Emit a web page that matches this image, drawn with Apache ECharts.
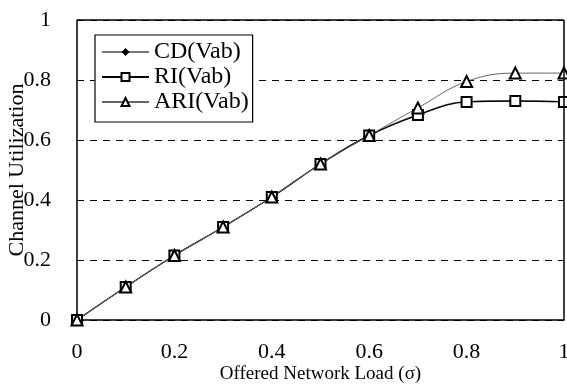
<!DOCTYPE html>
<html>
<head>
<meta charset="utf-8">
<script src="https://cdn.jsdelivr.net/npm/echarts@6/dist/echarts.min.js"></script>
<style>
  html, body { margin: 0; padding: 0; background: #fff; }
  #chart { width: 567px; height: 387px; }
</style>
</head>
<body>
<div id="chart"></div>
<script>
// offered load (sigma)
var loads = [0, 0.1, 0.2, 0.3, 0.4, 0.5, 0.6, 0.7, 0.8, 0.9, 1.0]
var cdVab = [0, 0.11, 0.215, 0.31, 0.41, 0.52, 0.615, 0.685, 0.728, 0.73, 0.728]
var riVab = [0, 0.11, 0.215, 0.31, 0.41, 0.52, 0.615, 0.683, 0.727, 0.73, 0.727]
var ariVab = [0, 0.11, 0.215, 0.31, 0.41, 0.52, 0.615, 0.707, 0.795, 0.823, 0.823]
var yTicks = [0, 0.2, 0.4, 0.6, 0.8, 1]

function pairs(xs, ys) {
    return xs.map(function (x, i) { return [x, ys[i]] })
}

var serif = 'Liberation Serif'
var chart = echarts.init(document.getElementById('chart'))

var option = {
    animation: false,
    backgroundColor: '#fff',
    textStyle: { fontFamily: serif, color: '#000' },
    grid: { left: 77, right: 3, top: 20, bottom: 67, outerBoundsMode: 'none', containLabel: false },
    legend: {
        orient: 'vertical',
        left: 95,
        top: 35,
        itemWidth: 47,
        itemHeight: 10,
        itemGap: 1,
        padding: [5, 4, 8, 6],
        borderColor: '#000',
        borderWidth: 1.2,
        backgroundColor: '#fff',
        textStyle: { fontFamily: serif, fontSize: 24, color: '#000' },
        data: ['CD(Vab)', 'RI(Vab)', 'ARI(Vab)']
    },
    xAxis: {
        type: 'value',
        min: 0, max: 1, interval: 0.2,
        name: 'Offered Network Load (σ)',
        nameLocation: 'middle',
        nameGap: 45,
        nameMoveOverlap: false,
        nameTextStyle: { fontFamily: serif, fontSize: 19, color: '#000' },
        axisLine: { lineStyle: { color: '#000', width: 1.5 } },
        axisTick: { show: false },
        axisLabel: {
            fontFamily: serif, fontSize: 22, color: '#000', margin: 21,
            formatter: function (v) { return String(+v.toFixed(1)) }
        },
        splitLine: { show: false }
    },
    yAxis: {
        type: 'value',
        min: 0, max: 1, interval: 0.2,
        name: 'Channel Utilization',
        nameLocation: 'middle',
        nameGap: 49,
        nameMoveOverlap: false,
        nameTextStyle: { fontFamily: serif, fontSize: 22, color: '#000' },
        axisLine: { show: true, lineStyle: { color: '#000', width: 1.5 } },
        axisTick: { show: false },
        axisLabel: {
            fontFamily: serif, fontSize: 22, color: '#000', margin: 26,
            formatter: function (v) { return yTicks.indexOf(v) >= 0 ? String(+v.toFixed(1)) : '' }
        },
        splitLine: { show: true, lineStyle: { color: '#000', type: [7, 6], width: 1.2 } }
    },
    series: [
        {
            name: 'CD(Vab)', type: 'line', smooth: 0.4,
            data: pairs(loads, cdVab),
            symbol: 'diamond', symbolSize: 8,
            lineStyle: { color: '#777', width: 1 },
            itemStyle: { color: '#000', borderColor: '#000' }
        },
        {
            name: 'RI(Vab)', type: 'line', smooth: 0.4,
            data: pairs(loads, riVab),
            symbol: 'emptyRect', symbolSize: 10,
            lineStyle: { color: '#000', width: 1.4 },
            itemStyle: { color: '#000', borderColor: '#000', borderWidth: 3 }
        },
        {
            name: 'ARI(Vab)', type: 'line', smooth: 0.4,
            data: pairs(loads, ariVab),
            symbol: 'emptyTriangle', symbolSize: 11,
            lineStyle: { color: '#666', width: 1 },
            itemStyle: { color: '#000', borderColor: '#000', borderWidth: 3 }
        },
        {
            // frame: top and right border
            type: 'line', silent: true, symbol: 'none',
            data: [],
            markLine: {
                silent: true, symbol: 'none', label: { show: false },
                lineStyle: { color: '#000', type: 'solid', width: 1.5 },
                data: [{ yAxis: 1 }, { xAxis: 1 }]
            }
        }
    ]
}
chart.setOption(option)
</script>
</body>
</html>
